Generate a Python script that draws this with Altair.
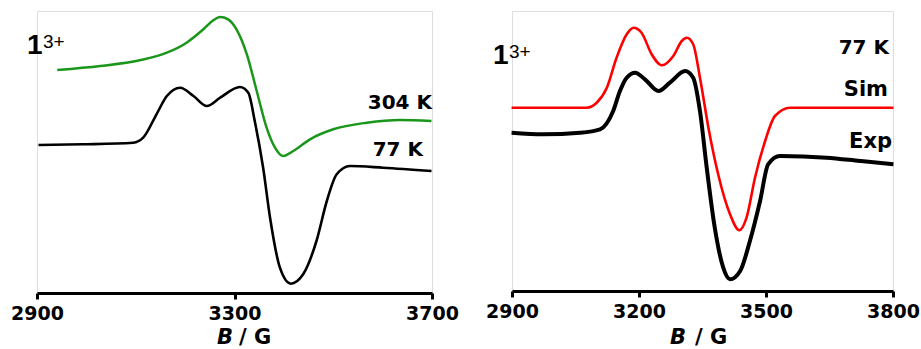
import altair as alt
import pandas as pd

# ---- Left panel data (B in gauss, intensity in arbitrary units) ----
b_304 = [2941, 3028, 3108, 3163, 3203, 3237, 3257, 3271, 3287, 3304, 3325, 3345,
         3365, 3382, 3398, 3419, 3453, 3500, 3568, 3635, 3699]
i_304 = [223, 227, 232.7, 240.3, 250.3, 263.7, 272.7, 276, 273.7, 263.7, 238.7, 202,
         165.3, 145.3, 137, 142, 153.7, 163.7, 170.3, 173, 172]

b_77 = [2903, 2994, 3095, 3115, 3142, 3163, 3190, 3217, 3244, 3271, 3311, 3328,
        3341, 3358, 3372, 3392, 3414, 3439, 3466, 3487, 3507, 3534, 3601, 3699]
i_77 = [148, 148.7, 150.3, 155.3, 178.7, 197, 205.3, 197, 187, 195.3, 206, 200.3,
        172, 125.3, 75.3, 25.3, 9.3, 18.7, 52, 92, 118.7, 127, 125.3, 122]

# ---- Right panel data ----
b_sim = [2899, 3076, 3100, 3124, 3147, 3171, 3187, 3206, 3230, 3254, 3281, 3301,
         3313, 3328, 3344, 3364, 3387, 3415, 3437, 3454, 3474, 3498, 3521, 3557, 3801]
i_sim = [183.3, 183.3, 188.3, 203.3, 233.3, 256.7, 263.3, 258.3, 236.7, 225.7, 235, 250,
         253.3, 246.7, 213.3, 163.3, 116.7, 76.7, 60.7, 73.3, 113.3, 150, 175, 183.3, 183.3]

b_exp = [2899, 2974, 3061, 3108, 3139, 3155, 3171, 3191, 3214, 3246, 3273, 3309,
         3328, 3344, 3360, 3379, 3399, 3415, 3439, 3462, 3486, 3505, 3533, 3643, 3722, 3801]
i_exp = [158.3, 156.7, 158.3, 161.7, 180, 200, 213.3, 218.3, 211.7, 200, 208.3, 220,
         213.3, 180, 123.3, 63.3, 23.3, 11.7, 20, 50, 90, 126.7, 135, 133.3, 130, 126.7]

left_ticks = [2900, 3300, 3700]
right_ticks = [2900, 3200, 3500, 3800]

FONT = "DejaVu Sans"
SUPFONT = "Liberation Sans"
GREEN = "#1a961a"
RED = "#ff0000"

df_304 = pd.DataFrame({"B": b_304, "I": i_304})
df_77 = pd.DataFrame({"B": b_77, "I": i_77})
df_sim = pd.DataFrame({"B": b_sim, "I": i_sim})
df_exp = pd.DataFrame({"B": b_exp, "I": i_exp})

LW, LH = 395, 282
RW, RH = 381, 280


def xaxis(ticks):
    return alt.Axis(values=ticks, title=None, grid=False, domainColor="black",
                    domainWidth=3, tickColor="black", tickWidth=3, tickSize=6,
                    labelFont=FONT, labelFontSize=19, labelFontWeight="bold",
                    labelColor="black", labelPadding=5, labelFlush=False,
                    labelOverlap=False, format="d")


def panel(curves, domain_x, ticks, w, h, texts):
    layers = []
    for df, color, sw in curves:
        layers.append(
            alt.Chart(df).mark_line(color=color, strokeWidth=sw, interpolate="monotone", clip=False)
            .encode(
                x=alt.X("B:Q", scale=alt.Scale(domain=domain_x, nice=False, zero=False), axis=xaxis(ticks)),
                y=alt.Y("I:Q", scale=alt.Scale(domain=[0, h], nice=False, zero=True), axis=None),
            )
        )
    for t in texts:
        txt, px, py, font, size, weight, style, align = t
        layers.append(
            alt.Chart(pd.DataFrame({"t": [txt]})).mark_text(
                font=font, fontSize=size, fontWeight=weight, fontStyle=style,
                align=align, baseline="alphabetic", color="black", clip=False
            ).encode(x=alt.value(px), y=alt.value(py), text="t:N")
        )
    return alt.layer(*layers).properties(width=w, height=h)


left_texts = [
    ("1", -10, 43, SUPFONT, 28, "bold", "normal", "left"),
    ("3+", 6, 37, SUPFONT, 19, "normal", "normal", "left"),
    ("304 K", 395, 98, FONT, 20, "bold", "normal", "right"),
    ("77 K", 386, 145, FONT, 20, "bold", "normal", "right"),
    ("B", 180, 333, FONT, 21, "bold", "italic", "left"),
    ("/ G", 202, 333, FONT, 21, "bold", "normal", "left"),
]
right_texts = [
    ("1", -19, 53, SUPFONT, 28, "bold", "normal", "left"),
    ("3+", -3, 47, SUPFONT, 19, "normal", "normal", "left"),
    ("77 K", 377, 43, FONT, 20, "bold", "normal", "right"),
    ("Sim", 376, 85, FONT, 21, "bold", "normal", "right"),
    ("Exp", 380, 137, FONT, 21, "bold", "normal", "right"),
    ("B", 158, 333, FONT, 21, "bold", "italic", "left"),
    ("/ G", 183, 333, FONT, 21, "bold", "normal", "left"),
]

left = panel([(df_304, GREEN, 2.5), (df_77, "black", 2.6)], [2900, 3700], left_ticks, LW, LH, left_texts)
right = panel([(df_sim, RED, 2.6), (df_exp, "black", 4)], [2900, 3800], right_ticks, RW, RH, right_texts)

chart = alt.hconcat(left, right, spacing=80, bounds="flush").properties(
    padding={"left": 10, "top": 10, "right": 0, "bottom": 4}
).configure_view(stroke=None).configure(background="white")

chart.save("out.html", embed_options={"renderer": "svg", "actions": False})
